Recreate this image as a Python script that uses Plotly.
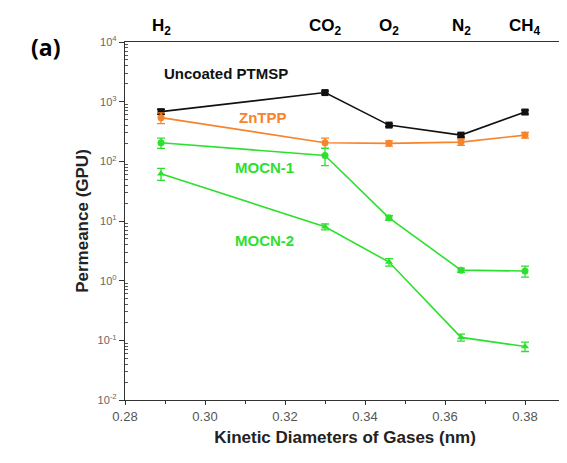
import math
import plotly.graph_objects as go

gases = ["H<sub>2</sub>", "CO<sub>2</sub>", "O<sub>2</sub>", "N<sub>2</sub>", "CH<sub>4</sub>"]
diam = [0.289, 0.330, 0.346, 0.364, 0.380]

ptmsp = [680, 1420, 405, 275, 670]
ptmsp_err = [60, 80, 25, 20, 50]
zntpp = [540, 205, 200, 210, 275]
zntpp_err = [110, 40, 20, 25, 30]
mocn1 = [205, 125, 11.3, 1.5, 1.45]
mocn1_err = [40, 40, 1.0, 0.12, 0.3]
mocn2 = [62, 8.0, 2.05, 0.112, 0.079]
mocn2_err = [14, 0.9, 0.3, 0.015, 0.014]

y_ticks = [0.01, 0.1, 1, 10, 100, 1000, 10000]
y_ticktext = ["10<sup>-2</sup>", "10<sup>-1</sup>", "10<sup>0</sup>", "10<sup>1</sup>",
              "10<sup>2</sup>", "10<sup>3</sup>", "10<sup>4</sup>"]
x_ticks = [0.28, 0.30, 0.32, 0.34, 0.36, 0.38]
x_ticktext = ["0.28", "0.30", "0.32", "0.34", "0.36", "0.38"]

black = "#111111"
orange = "#F7832B"
green = "#2EE02E"

fig = go.Figure()

def add(y, err, color, symbol, name):
    fig.add_trace(go.Scatter(
        x=diam, y=y, mode="lines+markers", name=name,
        line=dict(color=color, width=1.6),
        marker=dict(color=color, symbol=symbol, size=7),
        error_y=dict(type="data", array=err, color=color, thickness=1.3, width=4),
        showlegend=False))

add(ptmsp, ptmsp_err, black, "square", "Uncoated PTMSP")
add(zntpp, zntpp_err, orange, "circle", "ZnTPP")
add(mocn1, mocn1_err, green, "circle", "MOCN-1")
add(mocn2, mocn2_err, green, "triangle-up", "MOCN-2")

lab_font = dict(family="Liberation Sans, Arial", size=15)
for txt, x, y, col in [("Uncoated PTMSP", 0.3052, 3000, black),
                       ("ZnTPP", 0.3144, 540, orange),
                       ("MOCN-1", 0.3149, 80, green),
                       ("MOCN-2", 0.3149, 4.8, green)]:
    fig.add_annotation(x=x, y=math.log10(y), xref="x", yref="y", text="<b>%s</b>" % txt,
                       showarrow=False, font=dict(lab_font, color=col))

for g, d in zip(gases, diam):
    fig.add_annotation(x=d, y=1.0, xref="x", yref="paper", yanchor="bottom",
                       yshift=2, text="<b>%s</b>" % g, showarrow=False,
                       font=dict(family="Liberation Sans, Arial", size=17, color="black"))

fig.add_annotation(x=-0.218, y=0.985, xref="paper", yref="paper", text="<b>(a)</b>",
                   xanchor="left", yanchor="middle", showarrow=False,
                   font=dict(family="Open Sans, Liberation Sans", size=23, color="black"))

y_minor = [m * 10 ** e for e in range(-2, 4) for m in range(2, 10)]

# page body has an 8px margin, so the figure is sized and offset for it
fig.update_layout(
    width=559, height=455,
    margin=dict(l=117, r=2, t=34, b=63),
    paper_bgcolor="white", plot_bgcolor="white",
    font=dict(family="Liberation Sans, Arial", color="#444444"),
    xaxis=dict(range=[0.28, 0.39], tickmode="array", tickvals=x_ticks, ticktext=x_ticktext,
               ticks="outside", ticklen=4, tickcolor="#333", showline=True,
               linecolor="#333", linewidth=1.3, mirror=True, showgrid=False, zeroline=False,
               tickfont=dict(size=13, color="#555"), automargin=False,
               minor=dict(tickvals=[0.29, 0.31, 0.33, 0.35, 0.37, 0.39], ticks="outside",
                          ticklen=3, tickcolor="#333"),
               title=dict(text="<b>Kinetic Diameters of Gases (nm)</b>",
                          font=dict(size=17, color="#222"), standoff=8)),
    yaxis=dict(type="log", range=[-2, 4], tickmode="array", tickvals=y_ticks, ticktext=y_ticktext,
               ticks="outside", ticklen=5, tickcolor="#333", showline=True,
               linecolor="#333", linewidth=1.3, mirror=True, showgrid=False, zeroline=False,
               tickfont=dict(size=11, color="#666"), automargin=False,
               minor=dict(tickvals=y_minor, ticks="inside", ticklen=3, tickcolor="#555",
                          showgrid=False),
               title=dict(text="<b>Permeance (GPU)</b>", font=dict(size=17, color="#222"),
                          standoff=4)),
)

fig.write_html("out.html")
